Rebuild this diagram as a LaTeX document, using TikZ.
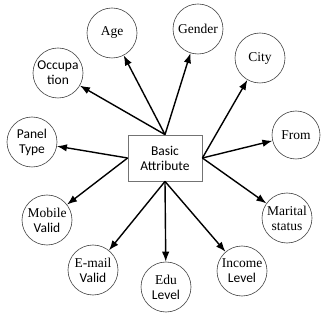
\documentclass[tikz,border=0pt]{standalone}
\usepackage{fontspec}
\setmainfont{Liberation Serif}
\newfontfamily\calfont{Carlito}
\usetikzlibrary{arrows.meta}
\newcommand\cf{\calfont\fontsize{13.5}{15}\selectfont}
\tikzset{
  attr/.style={circle, draw=black!75, line width=0.6pt, minimum size=50pt, inner sep=0pt, align=center, font=\fontsize{13.5}{15}\selectfont},
  basebox/.style={rectangle, draw=black!55, line width=0.8pt, minimum width=74pt, minimum height=46pt, inner sep=0pt, align=center, font=\cf},
  link/.style={line width=1.4pt, -{Latex[length=10pt,width=7.5pt]}}
}
\begin{document}
\begin{tikzpicture}[x=1pt,y=-1pt]
\useasboundingbox (0,0) rectangle (321,320);
\node[basebox] (b) at (165,158) {Basic\\Attribute};
\node[attr] (age) at (112,33) {Age};
\node[attr] (gen) at (198,29) {Gender};
\node[attr] (city) at (260,58) {City};
\node[attr, minimum size=48pt] (from) at (296,135) {From};
\node[attr] (occ) at (58,73) {\cf Occupa\\\cf tion};
\node[attr] (pan) at (32,142) {\cf Panel\\\cf Type};
\node[attr] (mob) at (47,220) {Mobile\\\cf Valid};
\node[attr] (mail) at (93,270) {E-mail\\\cf Valid};
\node[attr] (edu) at (166,287) {Edu\\\cf Level};
\node[attr] (inc) at (242,271) {Income\\\cf Level};
\node[attr] (mar) at (287,218) {Marital\\status};
\draw[link] (b.north) -- (occ);
\draw[link] (b.north) -- (age);
\draw[link] (b.north) -- (gen);
\draw[link] (b.east) -- (city);
\draw[link] (b.east) -- (from);
\draw[link] (b.east) -- (mar);
\draw[link] (b.south) -- (mail);
\draw[link] (b.south) -- (edu);
\draw[link] (b.south) -- (inc);
\draw[link] (b.west) -- (pan);
\draw[link] (b.west) -- (mob);
\end{tikzpicture}
\end{document}
